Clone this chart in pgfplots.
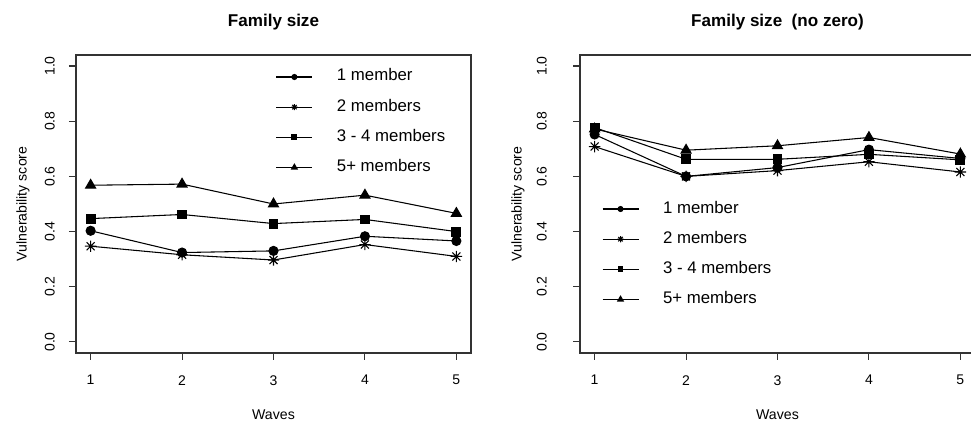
\documentclass[border=0pt]{standalone}
\usepackage{fontspec}
\setmainfont{Liberation Sans}
\usepackage{pgfplots}
\pgfplotsset{compat=1.18}

\pgfdeclareplotmark{rast}{%
  \pgfpathmoveto{\pgfqpoint{-1.414\pgfplotmarksize}{0pt}}%
  \pgfpathlineto{\pgfqpoint{1.414\pgfplotmarksize}{0pt}}%
  \pgfpathmoveto{\pgfqpoint{0pt}{-1.414\pgfplotmarksize}}%
  \pgfpathlineto{\pgfqpoint{0pt}{1.414\pgfplotmarksize}}%
  \pgfpathmoveto{\pgfqpoint{-\pgfplotmarksize}{-\pgfplotmarksize}}%
  \pgfpathlineto{\pgfqpoint{\pgfplotmarksize}{\pgfplotmarksize}}%
  \pgfpathmoveto{\pgfqpoint{-\pgfplotmarksize}{\pgfplotmarksize}}%
  \pgfpathlineto{\pgfqpoint{\pgfplotmarksize}{-\pgfplotmarksize}}%
  \pgfusepathqstroke}

\pgfplotsset{
  rstyle/.style={
    scale only axis, width=296.25pt, height=223.5pt,
    xmin=0.84, xmax=5.16, ymin=-0.04, ymax=1.04,
    xtick={1,2,3,4,5}, ytick={0,0.2,0.4,0.6,0.8,1.0},
    yticklabels={0.0,0.2,0.4,0.6,0.8,1.0},
    xtick pos=left, ytick pos=left,
    tick align=outside, major tick length=5.25pt,
    axis line style={line width=0.9pt, black!80},
    every tick/.style={line width=0.8pt, black!80},
    /pgf/number format/assume math mode=true,
    ticklabel style={font=\fontsize{10.5}{12}\selectfont, inner sep=0pt},
    y tick label style={rotate=90, anchor=south, yshift=10.5pt},
    x tick label style={anchor=north, yshift=-11.25pt},
    label style={font=\fontsize{10.6}{12}\selectfont},
    xlabel={Waves}, ylabel={Vulnerability score},
    xlabel style={at={(axis description cs:0.5,-0.208)}, anchor=center},
    title style={font=\bfseries\fontsize{12.8}{14}\selectfont, at={(axis description cs:0.5,1.084)}, anchor=center},
    legend cell align=left,
    legend style={draw=none, fill=none, inner sep=0pt, outer sep=0pt,
      font=\fontsize{12.6}{14}\selectfont, column sep=18pt, row sep=10.6pt,
      nodes={inner sep=0pt, text height=9pt, text depth=3pt}},
    legend image code/.code={\draw[mark repeat=2, mark phase=2, #1, mark options={scale=0.55}] plot coordinates {(0pt,0pt)(13.5pt,0pt)(27pt,0pt)};},
    clip=false,
  },
  s1/.style={black, line width=0.8pt, mark=*, mark size=3.4pt},
  s2/.style={black, line width=0.8pt, mark=rast, mark size=3pt},
  s3/.style={black, line width=0.8pt, mark=square*, mark size=3.3pt},
  s4/.style={black, line width=0.8pt, mark=triangle*, mark size=4.3pt},
}

\begin{document}
\begin{tikzpicture}
\useasboundingbox (0,0) rectangle (728.25pt,317.25pt);
\begin{axis}[rstyle, at={(57pt,52.5pt)}, anchor=south west,
  title={Family size},
  ylabel style={at={(axis description cs:-0.134,0.5)}, anchor=center},
  legend style={at={(axis description cs:0.506,0.953)}, anchor=north west}]
\addplot[s1] coordinates {(1,0.403)(2,0.324)(3,0.330)(4,0.383)(5,0.366)};
\addlegendentry{1 member}
\addplot[s2] coordinates {(1,0.347)(2,0.316)(3,0.297)(4,0.353)(5,0.310)};
\addlegendentry{2 members}
\addplot[s3] coordinates {(1,0.447)(2,0.462)(3,0.429)(4,0.444)(5,0.400)};
\addlegendentry{3 - 4 members}
\addplot[s4] coordinates {(1,0.568)(2,0.572)(3,0.500)(4,0.532)(5,0.466)};
\addlegendentry{5+ members}
\end{axis}
\begin{axis}[rstyle, at={(435pt,52.5pt)}, anchor=south west,
  title={Family size\ \ (no zero)},
  y tick label style={yshift=9pt},
  ylabel style={at={(axis description cs:-0.157,0.5)}, anchor=center},
  legend style={at={(axis description cs:0.0557,0.510)}, anchor=north west}]
\addplot[s1] coordinates {(1,0.752)(2,0.600)(3,0.632)(4,0.697)(5,0.665)};
\addlegendentry{1 member}
\addplot[s2] coordinates {(1,0.708)(2,0.600)(3,0.621)(4,0.653)(5,0.616)};
\addlegendentry{2 members}
\addplot[s3] coordinates {(1,0.777)(2,0.662)(3,0.662)(4,0.680)(5,0.660)};
\addlegendentry{3 - 4 members}
\addplot[s4] coordinates {(1,0.772)(2,0.695)(3,0.711)(4,0.741)(5,0.681)};
\addlegendentry{5+ members}
\end{axis}
\end{tikzpicture}
\end{document}
